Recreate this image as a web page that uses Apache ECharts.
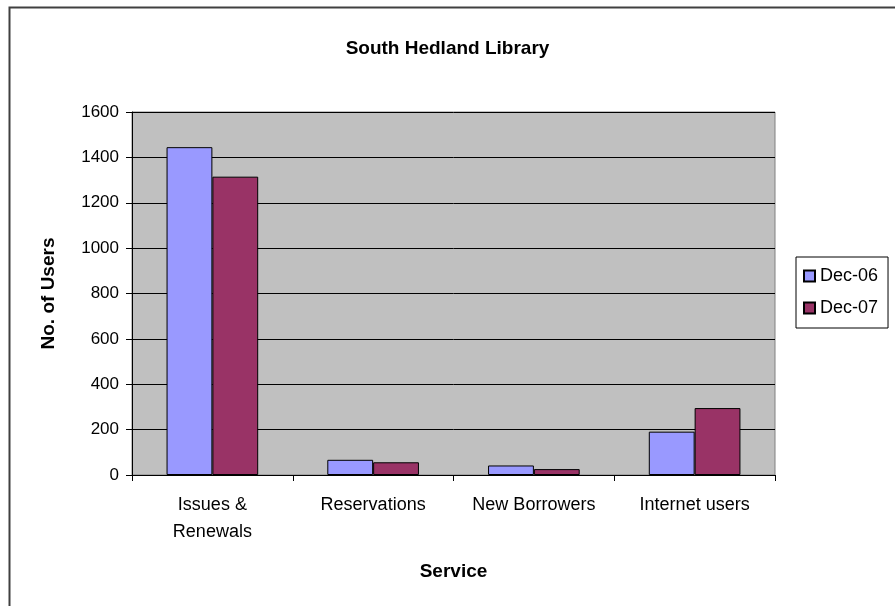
<!DOCTYPE html>
<html>
<head>
<meta charset="utf-8">
<script src="https://cdn.jsdelivr.net/npm/echarts@6/dist/echarts.min.js"></script>
<style>html,body{margin:0;padding:0;background:#fff;}#c{width:895px;height:606px;}</style>
</head>
<body>
<div id="c"></div>
<script>
var categories = ['Issues &\nRenewals', 'Reservations', 'New Borrowers', 'Internet users'];
var dec06 = [1445, 67, 42, 191];
var dec07 = [1315, 56, 26, 295];
var seriesNames = ['Dec-06', 'Dec-07'];

var font = 'Liberation Sans, Arial, sans-serif';
var chart = echarts.init(document.getElementById('c'));
chart.setOption({
  backgroundColor: '#ffffff',
  animation: false,
  graphic: [{
    type: 'rect', shape: {x: 9.5, y: 7.5, width: 900, height: 620},
    style: {fill: 'none', stroke: '#404040', lineWidth: 2}, silent: true
  }],
  title: {
    text: 'South Hedland Library', left: 'center', top: 34,
    textStyle: {fontFamily: font, fontSize: 19, fontWeight: 'bold', color: '#000'}
  },
  legend: {
    orient: 'vertical', left: 796, top: 257,
    data: seriesNames,
    itemWidth: 11, itemHeight: 11, itemGap: 14,
    padding: [10, 10, 11, 7],
    borderColor: '#000', borderWidth: 1,
    icon: 'rect',
    textStyle: {fontFamily: font, fontSize: 18, color: '#000'}
  },
  grid: {
    left: 132, right: 120, top: 112, bottom: 131,
    show: true, backgroundColor: '#c0c0c0', borderColor: '#808080', borderWidth: 1
  },
  xAxis: {
    type: 'category', data: categories,
    name: 'Service', nameLocation: 'middle', nameGap: 87,
    nameTextStyle: {fontFamily: font, fontSize: 19, fontWeight: 'bold', color: '#000'},
    axisLine: {lineStyle: {color: '#000', width: 1}},
    axisTick: {show: true, length: 6, lineStyle: {color: '#000'}, interval: 0},
    axisLabel: {fontFamily: font, fontSize: 18, color: '#000', margin: 17, lineHeight: 27, interval: 0}
  },
  yAxis: {
    type: 'value', min: 0, max: 1600, interval: 200,
    name: 'No. of Users', nameLocation: 'middle', nameGap: 74, nameRotate: 90,
    nameTextStyle: {fontFamily: font, fontSize: 19, fontWeight: 'bold', color: '#000'},
    axisLine: {show: true, lineStyle: {color: '#000', width: 1}},
    axisTick: {show: true, length: 6, lineStyle: {color: '#000'}},
    axisLabel: {fontFamily: font, fontSize: 17, color: '#000', margin: 13,
                formatter: function (v) { return String(v); }},
    splitLine: {lineStyle: {color: '#000', width: 1}}
  },
  series: [
    {name: seriesNames[0], type: 'bar', data: dec06, barGap: '0%', barCategoryGap: '43%',
     itemStyle: {color: '#9999ff', borderColor: '#000', borderWidth: 1}},
    {name: seriesNames[1], type: 'bar', data: dec07, barGap: '0%', barCategoryGap: '43%',
     itemStyle: {color: '#993366', borderColor: '#000', borderWidth: 1}}
  ]
});
</script>
</body>
</html>
